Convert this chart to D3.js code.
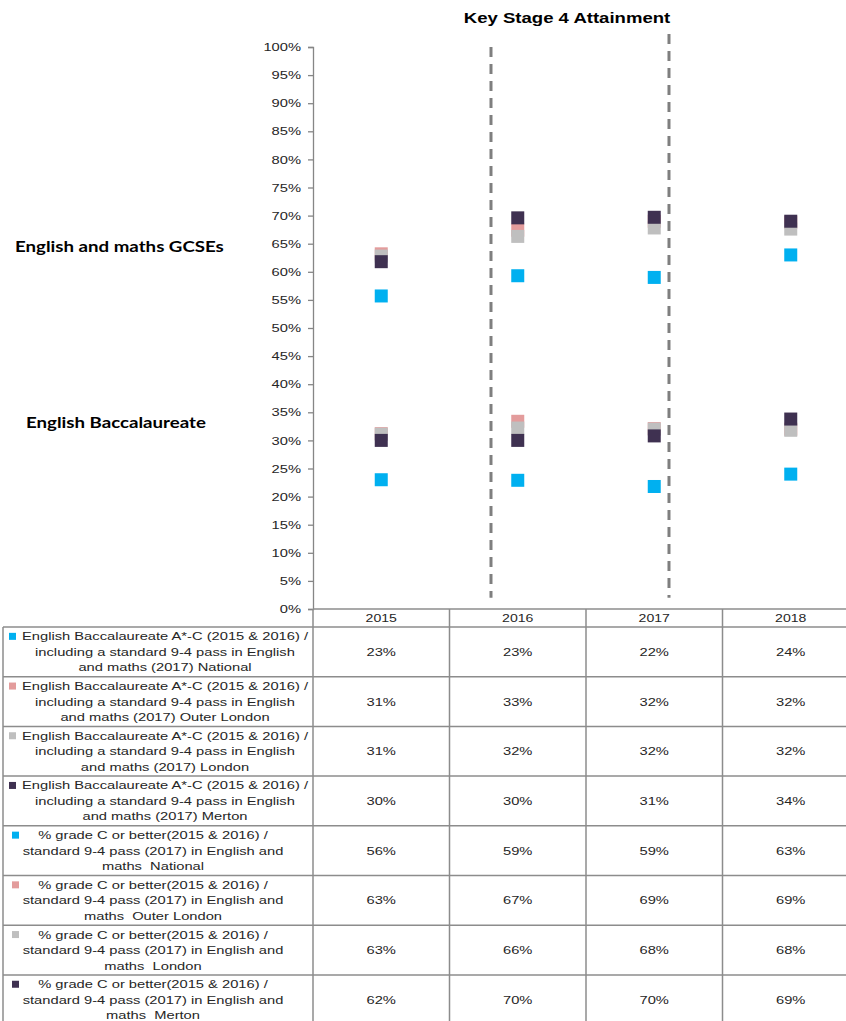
<!DOCTYPE html>
<meta charset="utf-8">
<head>
    <title>Key Stage 4 Attainment</title>
    <style>
        body { margin: 0; background: #fff; }
        text { font-family: "Liberation Sans", Arial, sans-serif; fill: #262626; }
        .side { font-family: Lato, "Open Sans", sans-serif; font-weight: bold; font-size: 14.6px; fill: #000; }
    </style>
</head>
<body>
<svg width="846" height="1021"></svg>
<script src="https://d3js.org/d3.v7.min.js"></script>
<script>

    //years along the bottom
    var years = ["2015", "2016", "2017", "2018"];

    //series values (table shows them rounded)
    var ebNational = [0.230, 0.229, 0.218, 0.240];
    var ebOuter = [0.312, 0.334, 0.321, 0.320];
    var ebLondon = [0.311, 0.322, 0.320, 0.318];
    var ebMerton = [0.300, 0.300, 0.308, 0.338];
    var gcNational = [0.557, 0.593, 0.590, 0.630];
    var gcOuter = [0.632, 0.674, 0.690, 0.688];
    var gcLondon = [0.628, 0.663, 0.678, 0.676];
    var gcMerton = [0.618, 0.696, 0.697, 0.690];

    //legend text, one entry per line in the table cell
    var ebLabel = ["English Baccalaureate A*-C (2015 & 2016) /", "including a standard 9-4 pass in English", "and maths (2017) "];
    var gcLabel = ["% grade C or better(2015 & 2016) /", "standard 9-4 pass (2017) in English and", "maths  "];
    var areas = ["National", "Outer London", "London", "Merton"];
    var colours = ["#00b0f0", "#e39c9c", "#bfbfbf", "#3f3151"];

    //y ticks 0% .. 100% step 5
    var yTicks = d3.range(0, 21).map(function(i) { return i * 0.05; });

    //dashed dividers, in units of year columns from the axis
    var dividers = [1.304, 2.608];

    var series = [
        {group: "eb", area: 0, values: ebNational},
        {group: "eb", area: 1, values: ebOuter},
        {group: "eb", area: 2, values: ebLondon},
        {group: "eb", area: 3, values: ebMerton},
        {group: "gc", area: 0, values: gcNational},
        {group: "gc", area: 1, values: gcOuter},
        {group: "gc", area: 2, values: gcLondon},
        {group: "gc", area: 3, values: gcMerton}
    ];

    var svg = d3.select("svg");

    var plotLeft = 313, plotRight = 859, plotTop = 47, plotBottom = 609;
    var tableLeft = 3, headerH = 18, rowH = 49.7;
    //the original picture is stretched sideways, so text is too
    var sx = 1.28;

    var x = d3.scaleBand().domain(years).range([plotLeft, plotRight]);
    var xCols = d3.scaleLinear().domain([0, 4]).range([plotLeft, plotRight]);
    var y = d3.scaleLinear().domain([0, 1]).range([plotBottom, plotTop]);
    var fmt = d3.format(".0%");

    //widen a text sideways around its own anchor
    function stretch(sel, k) {
        sel.attr("transform", function() {
            var t = d3.select(this);
            var ax = +t.attr("x") || 0, ay = +t.attr("y") || 0;
            return "translate(" + ax + "," + ay + ") scale(" + k + ",1) translate(" + (-ax) + "," + (-ay) + ")";
        });
    }

    //title
    svg.append("text")
            .attr("x", 567).attr("y", 23)
            .attr("text-anchor", "middle")
            .style("font-weight", "bold")
            .style("font-size", "14.5px")
            .style("fill", "#000")
            .text("Key Stage 4 Attainment")
            .call(stretch, sx);

    //side labels
    svg.append("text").attr("class", "side").attr("x", 15).attr("y", 252).text("English and maths GCSEs").call(stretch, sx);
    svg.append("text").attr("class", "side").attr("x", 26).attr("y", 428).text("English Baccalaureate").call(stretch, sx);

    //y axis
    var yAxis = svg.append("g")
            .attr("transform", "translate(" + plotLeft + ",0)")
            .call(d3.axisLeft(y).tickValues(yTicks).tickFormat(fmt).tickSizeOuter(0).tickSize(5).tickPadding(7));
    yAxis.selectAll("text")
            .style("font-size", "11.5px")
            .style("font-family", "'Liberation Sans', Arial, sans-serif")
            .style("fill", "#262626")
            .call(stretch, sx);
    yAxis.selectAll("line, path").attr("stroke", "#868686").attr("stroke-width", 1.3);

    //dashed dividers
    svg.append("g").selectAll("line")
            .data(dividers)
            .enter().append("line")
            .attr("x1", function(d) { return xCols(d); })
            .attr("x2", function(d) { return xCols(d); })
            .attr("y1", function(d, i) { return i === 0 ? y(1) : y(1.023); })
            .attr("y2", y(0.02))
            .attr("stroke", "#7f7f7f")
            .attr("stroke-width", 3)
            .attr("stroke-dasharray", "10,7");

    //markers
    var size = 13;
    series.forEach(function(s) {
        svg.append("g").selectAll("rect")
                .data(s.values)
                .enter().append("rect")
                .attr("x", function(d, i) { return x(years[i]) + x.bandwidth() / 2 - size / 2; })
                .attr("y", function(d) { return y(d) - size / 2; })
                .attr("width", size)
                .attr("height", size)
                .attr("fill", colours[s.area]);
    });

    //data table
    var table = svg.append("g");
    var rowTop = function(i) { return plotBottom + headerH + i * rowH; };
    var gridColour = "#8c8c8c";

    //horizontal rules
    table.append("line").attr("x1", plotLeft).attr("x2", plotRight).attr("y1", plotBottom).attr("y2", plotBottom)
            .attr("stroke", gridColour).attr("stroke-width", 1.5);
    d3.range(0, series.length + 1).forEach(function(i) {
        table.append("line").attr("x1", tableLeft).attr("x2", plotRight)
                .attr("y1", rowTop(i)).attr("y2", rowTop(i))
                .attr("stroke", gridColour).attr("stroke-width", 1.5);
    });
    //vertical rules
    table.append("line").attr("x1", tableLeft).attr("x2", tableLeft).attr("y1", rowTop(0)).attr("y2", 1021)
            .attr("stroke", gridColour).attr("stroke-width", 1.5);
    d3.range(0, years.length + 1).forEach(function(i) {
        table.append("line").attr("x1", xCols(i)).attr("x2", xCols(i)).attr("y1", plotBottom).attr("y2", 1021)
                .attr("stroke", gridColour).attr("stroke-width", 1.5);
    });

    //year header
    table.selectAll("text.year")
            .data(years)
            .enter().append("text")
            .attr("class", "year")
            .attr("x", function(d) { return x(d) + x.bandwidth() / 2; })
            .attr("y", plotBottom + 13)
            .attr("text-anchor", "middle")
            .style("font-size", "11px")
            .text(function(d) { return d; })
            .call(stretch, sx);

    //rows
    series.forEach(function(s, r) {
        var mid = rowTop(r) + rowH / 2;
        var lines = (s.group === "eb" ? ebLabel : gcLabel).slice();
        lines[2] = lines[2] + areas[s.area];
        var cx = s.group === "eb" ? 165 : 153;
        var keyX = s.group === "eb" ? 9 : 12;

        table.append("rect")
                .attr("x", keyX).attr("y", mid - 15.5 - 3.5)
                .attr("width", 7).attr("height", 7)
                .attr("fill", colours[s.area]);

        table.selectAll(null)
                .data(lines)
                .enter().append("text")
                .attr("x", cx)
                .attr("y", function(d, i) { return mid + (i - 1) * 15.5 + 4; })
                .attr("text-anchor", "middle")
                .style("white-space", "pre")
                .style("font-size", "11.5px")
                .text(function(d) { return d; })
                .call(stretch, sx);

        table.selectAll(null)
                .data(s.values)
                .enter().append("text")
                .attr("x", function(d, i) { return x(years[i]) + x.bandwidth() / 2; })
                .attr("y", mid + 4)
                .attr("text-anchor", "middle")
                .style("font-size", "11.5px")
                .text(function(d) { return fmt(d); })
                .call(stretch, sx);
    });
</script>
</body>
